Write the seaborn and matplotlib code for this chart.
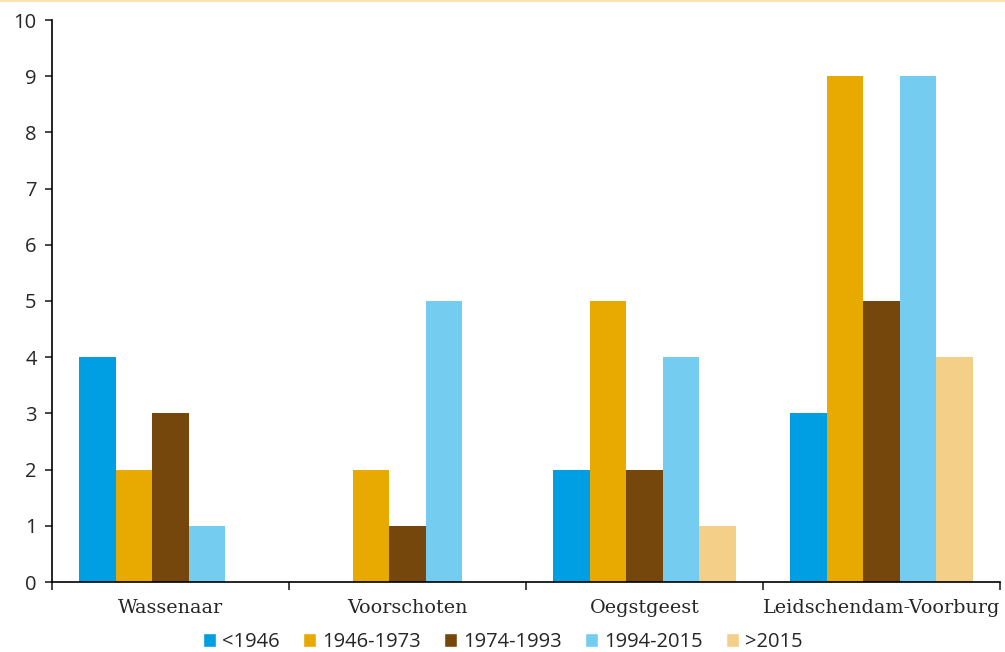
import pandas as pd
import matplotlib.pyplot as plt
import seaborn as sns
from matplotlib.lines import Line2D
from matplotlib.patches import Patch

# Gegevens
gemeenten = ['Wassenaar', 'Voorschoten', 'Oegstgeest', 'Leidschendam-Voorburg']
periodes = ['<1946', '1946-1973', '1974-1993', '1994-2015', '>2015']
v_1946 = [4, 0, 2, 3]
v_1946_1973 = [2, 2, 5, 9]
v_1974_1993 = [3, 1, 2, 5]
v_1994_2015 = [1, 5, 4, 9]
v_2015 = [0, 0, 1, 4]
kleuren = ['#009FE3', '#E8AA00', '#76470C', '#74CCF0', '#F3CF87']

rows = []
for p, vals in zip(periodes, [v_1946, v_1946_1973, v_1974_1993, v_1994_2015, v_2015]):
    for g, v in zip(gemeenten, vals):
        rows.append({'Gemeente': g, 'Periode': p, 'Aantal': v})
df = pd.DataFrame(rows)

sns.set_style('white')
plt.rcParams['font.family'] = ['Open Sans', 'DejaVu Sans']

fig = plt.figure(figsize=(10.05, 6.52), dpi=100)
ax = fig.add_axes([52 / 1005, 70 / 652, 948 / 1005, 562 / 652])
sns.barplot(data=df, x='Gemeente', y='Aantal', hue='Periode', order=gemeenten,
            hue_order=periodes, palette=kleuren, width=0.77, saturation=1,
            linewidth=0, ax=ax, legend=False)

ax.set_xlim(-0.5, 3.5)
ax.set_ylim(0, 10)
ax.set_yticks(range(0, 11))
ax.set_xlabel('')
ax.set_ylabel('')
for s in ['top', 'right']:
    ax.spines[s].set_visible(False)
for s in ['left', 'bottom']:
    ax.spines[s].set_color('black')
    ax.spines[s].set_linewidth(1.2)

ax.set_xticks([-0.5, 0.5, 1.5, 2.5, 3.5])
ax.set_xticklabels([])
ax.set_xticks([0, 1, 2, 3], minor=True)
ax.set_xticklabels(gemeenten, minor=True, family='DejaVu Serif', fontsize=13.8)
ax.tick_params(axis='x', which='major', direction='out', length=6, width=1.2, bottom=True)
ax.tick_params(axis='x', which='minor', length=0, pad=12)
ax.tick_params(axis='y', direction='out', length=5, width=1.2, left=True, labelsize=14.5, pad=6)

handles = [Patch(facecolor=c, label=p) for c, p in zip(kleuren, periodes)]
fig.legend(handles=handles, loc='center', bbox_to_anchor=(0.5, 10 / 652), ncol=5,
           frameon=False, fontsize=14.5, handlelength=0.65, handleheight=0.65,
           handletextpad=0.3, columnspacing=1.15)

fig.add_artist(Line2D([0, 1], [0.9985, 0.9985], color='#FBE3B0', linewidth=1.5,
                      transform=fig.transFigure))

fig.savefig('out.png', dpi=100)
